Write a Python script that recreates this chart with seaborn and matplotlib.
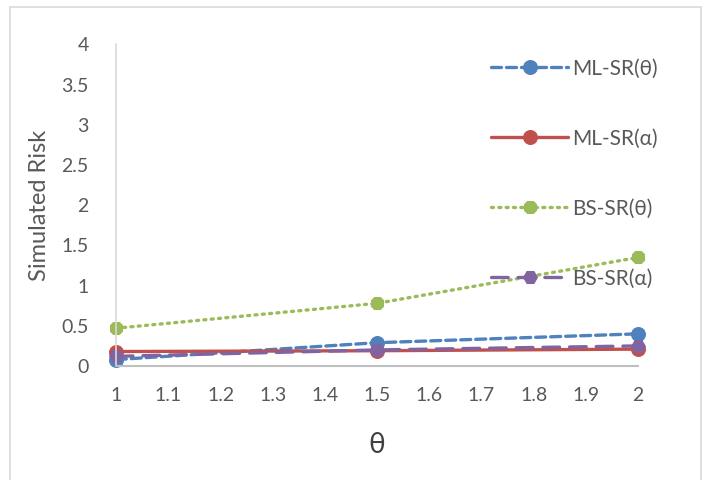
import pandas as pd
import matplotlib
matplotlib.use("Agg")
import matplotlib.pyplot as plt
import seaborn as sns
from matplotlib.patches import Rectangle

# values
theta = [1, 1.5, 2]
ml_sr_theta = [0.08, 0.29, 0.40]
ml_sr_alpha = [0.18, 0.19, 0.21]
bs_sr_theta = [0.47, 0.78, 1.35]
bs_sr_alpha = [0.12, 0.20, 0.25]

labels = ["ML-SR(θ)", "ML-SR(α)", "BS-SR(θ)", "BS-SR(α)"]
colors = ["#4F81BD", "#C0504D", "#9BBB59", "#8064A2"]
markers = ["o", "o", "8", "H"]
dashes = [(3, 1.5), (None, None), (0.6, 1.6), (5, 3)]

sns.set_style("white")
plt.rcParams["font.family"] = ["Lato", "DejaVu Sans"]

fig = plt.figure(figsize=(7.05, 4.8), dpi=100)
ax = fig.add_axes([0.165, 0.2375, 0.74, 0.67])

# light chart-area border like the spreadsheet export
fig.patches.append(Rectangle((0.014, -0.05), 0.98, 1.035, transform=fig.transFigure,
                             fill=False, edgecolor="#D9D9D9", linewidth=1.2))

series = [ml_sr_theta, ml_sr_alpha, bs_sr_theta, bs_sr_alpha]
for vals, lab, c, m, d in zip(series, labels, colors, markers, dashes):
    sns.lineplot(x=theta, y=vals, ax=ax, color=c, marker=m, markersize=10,
                 markeredgecolor=c, linewidth=2.4, label=lab)
    ln = ax.get_lines()[-1]
    if d[0] is not None:
        ln.set_dashes(d)
        ln.set_dash_capstyle("round")

ax.set_xlim(1, 2)
ax.set_ylim(0, 4)
ax.set_xticks([1 + i * 0.1 for i in range(11)])
ax.set_xticklabels(["1", "1.1", "1.2", "1.3", "1.4", "1.5", "1.6", "1.7", "1.8", "1.9", "2"])
ax.set_yticks([0, 0.5, 1, 1.5, 2, 2.5, 3, 3.5, 4])
ax.set_yticklabels(["0", "0.5", "1", "1.5", "2", "2.5", "3", "3.5", "4"])
ax.tick_params(axis="both", labelsize=14, colors="#595959", length=0)
ax.tick_params(axis="x", pad=15)
ax.tick_params(axis="y", pad=20)

ax.set_xlabel("θ", fontsize=20, color="#404040", labelpad=20)
ax.set_ylabel("Simulated Risk", fontsize=17, color="#595959", labelpad=8)

for s in ["top", "right"]:
    ax.spines[s].set_visible(False)
ax.spines["left"].set_color("#D9D9D9")
ax.spines["bottom"].set_color("#BFBFBF")
ax.spines["left"].set_linewidth(1.2)
ax.spines["bottom"].set_linewidth(1.5)
ax.patch.set_alpha(0)
for ln in ax.get_lines():
    ln.set_clip_on(False)

ax.legend(loc="upper left", bbox_to_anchor=(0.67, 0.917), bbox_transform=fig.transFigure,
          frameon=False, fontsize=15, labelcolor="#595959", handlelength=3.7,
          labelspacing=2.4, handletextpad=0.2)

fig.savefig("out.png", dpi=100)
